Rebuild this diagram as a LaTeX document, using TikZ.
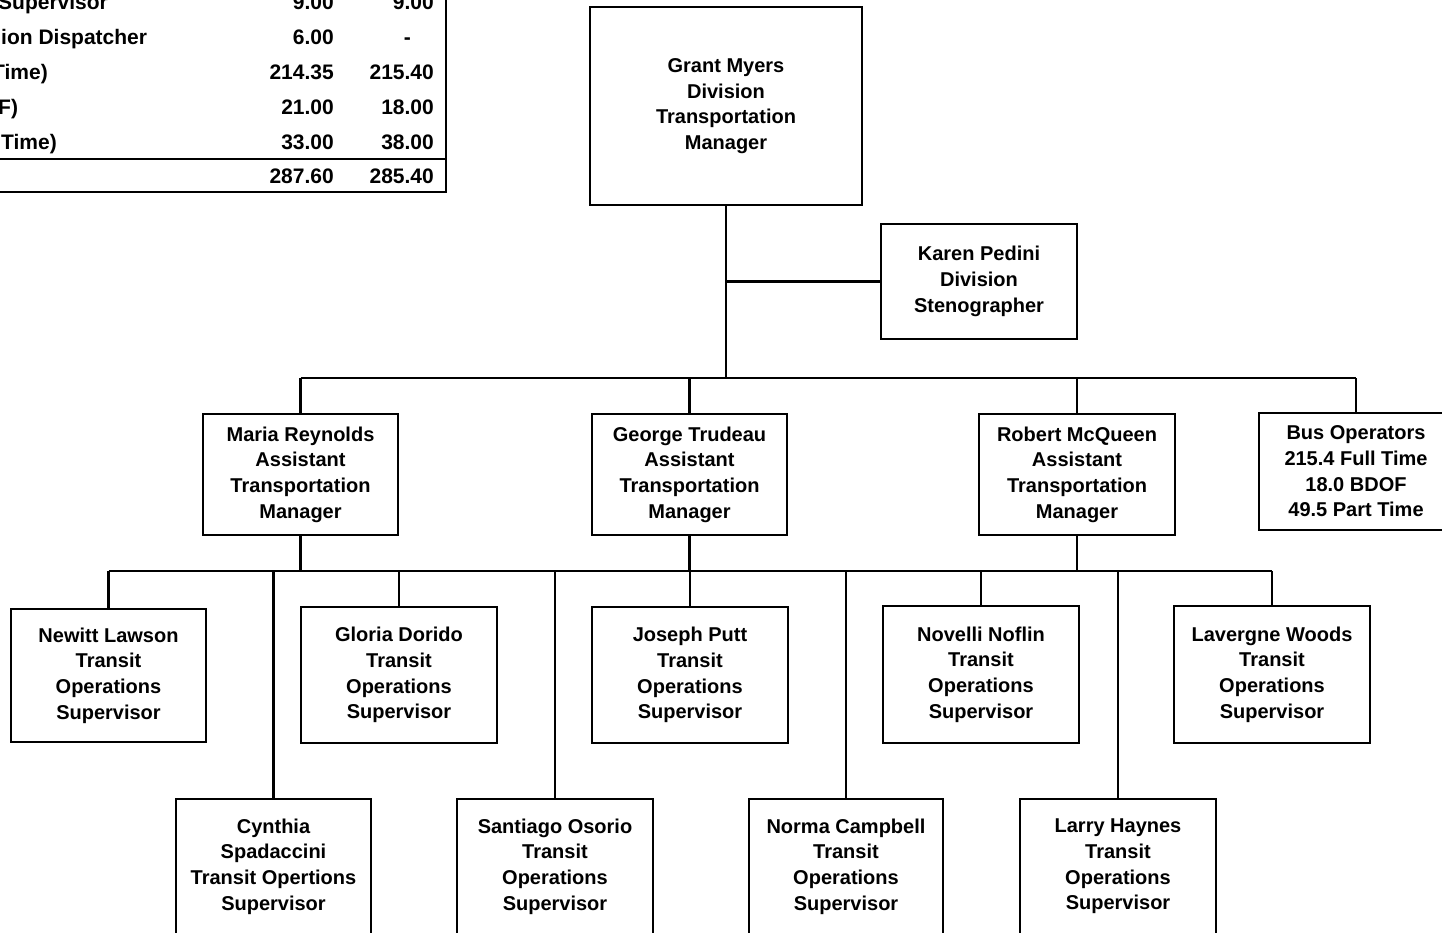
\documentclass[tikz,border=0pt]{standalone}
\usepackage{fontspec}
\setmainfont{Liberation Sans}
\begin{document}
\begin{tikzpicture}[x=1pt,y=-1pt,
  box/.style={draw,line width=2.2pt,align=center,inner sep=0pt,
    font=\bfseries\fontsize{20}{25.7}\selectfont},
  conn/.style={line width=2.2pt},
  tab/.style={inner sep=0pt,font=\bfseries\fontsize{21}{25}\selectfont}]
\useasboundingbox (0,0) rectangle (1442,933);
\clip (0,0) rectangle (1442,933);

% ---- partial table (top left) ----
\draw[conn] (446,-5) -- (446,192) -- (-5,192);
\draw[conn] (-5,159) -- (446,159);
\node[tab,anchor=base west] (t1l) at (-2,10) {Supervisor};
\node[tab,anchor=base east] (t1a) at (334,10) {9.00};
\node[tab,anchor=base east] (t1b) at (434,10) {9.00};
\node[tab,anchor=base west] (t2l) at (1,45) {ion Dispatcher};
\node[tab,anchor=base east] (t2a) at (334,45) {6.00};
\node[tab,anchor=base east] (t2b) at (411,45) {-};
\node[tab,anchor=base west] (t3l) at (-8,80) {Time)};
\node[tab,anchor=base east] (t3a) at (334,80) {214.35};
\node[tab,anchor=base east] (t3b) at (434,80) {215.40};
\node[tab,anchor=base west] (t4l) at (-2,115) {F)};
\node[tab,anchor=base east] (t4a) at (334,115) {21.00};
\node[tab,anchor=base east] (t4b) at (434,115) {18.00};
\node[tab,anchor=base west] (t5l) at (1,150) {Time)};
\node[tab,anchor=base east] (t5a) at (334,150) {33.00};
\node[tab,anchor=base east] (t5b) at (434,150) {38.00};
\node[tab,anchor=base east] (t6a) at (334,184) {287.60};
\node[tab,anchor=base east] (t6b) at (434,184) {285.40};

% ---- boxes ----
\node[box,minimum width=272pt,minimum height=198pt] (grant) at (726,106)
  {Grant Myers\\Division\\Transportation\\Manager};
\node[box,minimum width=196pt,minimum height=115pt] (karen) at (979,281.5)
  {Karen Pedini\\Division\\Stenographer};

\node[box,minimum width=195pt,minimum height=121pt] (maria) at (300.5,474.5)
  {Maria Reynolds\\Assistant\\Transportation\\Manager};
\node[box,minimum width=195pt,minimum height=121pt] (george) at (689.5,474.5)
  {George Trudeau\\Assistant\\Transportation\\Manager};
\node[box,minimum width=196pt,minimum height=121pt] (robert) at (1077,474.5)
  {Robert McQueen\\Assistant\\Transportation\\Manager};
\node[box,minimum width=194pt,minimum height=117pt] (bus) at (1356,471.5)
  {Bus Operators\\215.4 Full Time\\18.0 BDOF\\49.5 Part Time};

\node[box,minimum width=195pt,minimum height=133pt] (newitt) at (108.5,675.5)
  {Newitt Lawson\\Transit\\Operations\\Supervisor};
\node[box,minimum width=196pt,minimum height=136pt] (gloria) at (399,675)
  {Gloria Dorido\\Transit\\Operations\\Supervisor};
\node[box,minimum width=196pt,minimum height=136pt] (joseph) at (690,675)
  {Joseph Putt\\Transit\\Operations\\Supervisor};
\node[box,minimum width=196pt,minimum height=137pt] (novelli) at (981,674.5)
  {Novelli Noflin\\Transit\\Operations\\Supervisor};
\node[box,minimum width=196pt,minimum height=137pt] (lavergne) at (1272,674.5)
  {Lavergne Woods\\Transit\\Operations\\Supervisor};

\node[box,minimum width=195pt,minimum height=135pt] (cynthia) at (273.5,866.5)
  {Cynthia\\Spadaccini\\Transit Opertions\\Supervisor};
\node[box,minimum width=196pt,minimum height=135pt] (santiago) at (555,866.5)
  {Santiago Osorio\\Transit\\Operations\\Supervisor};
\node[box,minimum width=194pt,minimum height=135pt] (norma) at (846,866.5)
  {Norma Campbell\\Transit\\Operations\\Supervisor};
\node[box,minimum width=196pt,minimum height=135pt] (larry) at (1118,866.5)
  {Larry Haynes\\Transit\\Operations\\Supervisor};

% ---- connectors ----
\coordinate (b1) at (0,378);
\coordinate (b2) at (0,571);
\draw[conn] (grant.south) -- (grant.south |- b1);
\draw[conn] (grant.south |- karen.west) -- (karen.west);
\draw[conn] (b1 -| maria.north) -- (b1 -| bus.north);
\foreach \n in {maria,george,robert,bus}
  \draw[conn] (b1 -| \n.north) -- (\n.north);
\foreach \n in {maria,george,robert}
  \draw[conn] (\n.south) -- (\n.south |- b2);
\draw[conn] (b2 -| newitt.north) -- (b2 -| lavergne.north);
\foreach \n in {newitt,gloria,joseph,novelli,lavergne,cynthia,santiago,norma,larry}
  \draw[conn] (b2 -| \n.north) -- (\n.north);
\end{tikzpicture}
\end{document}
